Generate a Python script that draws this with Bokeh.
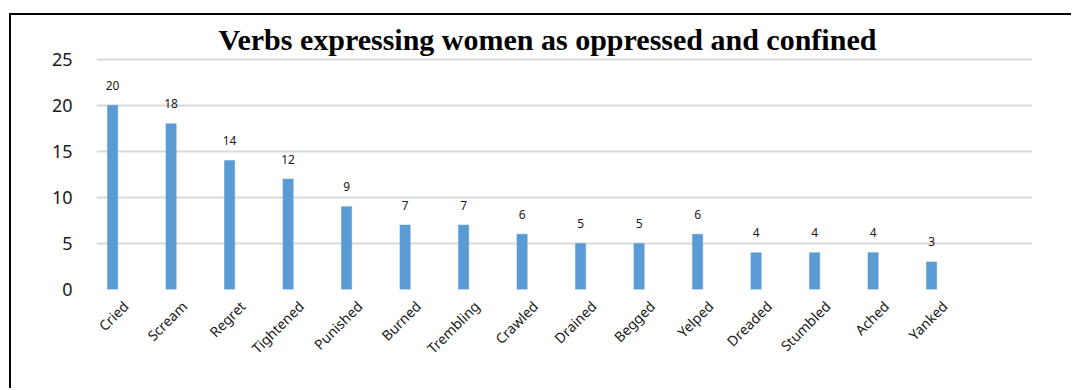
from bokeh.plotting import figure
from bokeh.models import ColumnDataSource, FactorRange, Range1d
from bokeh.core.properties import value
from bokeh.transform import dodge
from bokeh.embed import file_html
from bokeh.resources import INLINE
from math import pi

verbs = ["Cried", "Scream", "Regret", "Tightened", "Punished", "Burned", "Trembling",
         "Crawled", "Drained", "Begged", "Yelped", "Dreaded", "Stumbled", "Ached", "Yanked"]
counts = [20, 18, 14, 12, 9, 7, 7, 6, 5, 5, 6, 4, 4, 4, 3]
y_ticks = [0, 5, 10, 15, 20, 25]

# one trailing empty category slot, as in the original worksheet range
factors = verbs + [""]

src = ColumnDataSource(dict(verb=verbs, count=counts, label=[str(c) for c in counts]))

p = figure(
    width=1062, height=375,
    x_range=FactorRange(*factors, range_padding=0),
    y_range=Range1d(0, 25.2),
    output_backend="svg", toolbar_location=None,
    min_border_left=85, min_border_right=41, min_border_top=42, min_border_bottom=101,
    margin=(13, 0, 0, 9),
    styles={"border-left": "2px solid black", "border-top": "2px solid black"},
    title="Verbs expressing women as oppressed and confined",
)

p.title.text_font = "Liberation Serif"
p.title.text_font_style = "bold"
p.title.text_font_size = "30px"
p.title.align = "left"
p.title.offset = 122
p.title.standoff = 3
p.title.text_color = "#000000"

p.outline_line_color = None
p.background_fill_color = "white"
p.border_fill_color = "white"

p.xgrid.grid_line_color = None
p.ygrid.grid_line_color = "#d9d9d9"
p.ygrid.grid_line_width = 2
p.ygrid.ticker = y_ticks

p.yaxis.ticker = y_ticks
p.yaxis.axis_line_color = None
p.yaxis.major_tick_line_color = None
p.yaxis.minor_tick_line_color = None
p.yaxis.major_label_text_font = "Noto Sans"
p.yaxis.major_label_text_font_size = "18px"
p.yaxis.major_label_text_color = "#1a1a1a"
p.yaxis.major_label_standoff = 18

p.xaxis.axis_line_color = None
p.xaxis.major_tick_line_color = None
p.xaxis.minor_tick_line_color = None
p.xaxis.major_label_orientation = pi / 4
p.xaxis.major_label_text_font = "Noto Sans"
p.xaxis.major_label_text_font_size = "14px"
p.xaxis.major_label_text_color = "#1a1a1a"
p.xaxis.major_label_standoff = 8

p.vbar(x=dodge("verb", -0.225, range=p.x_range), top="count", width=0.175,
       source=src, fill_color="#5b9bd5", line_color="#5b9bd5", line_width=0.5)

p.text(x=dodge("verb", -0.225, range=p.x_range), y="count", text="label", source=src,
       text_align="center", text_baseline="middle", y_offset=-20,
       text_font_size="12px", text_font=value("Noto Sans"), text_color="#1a1a1a")

open("out.html", "w").write(file_html(p, INLINE))
